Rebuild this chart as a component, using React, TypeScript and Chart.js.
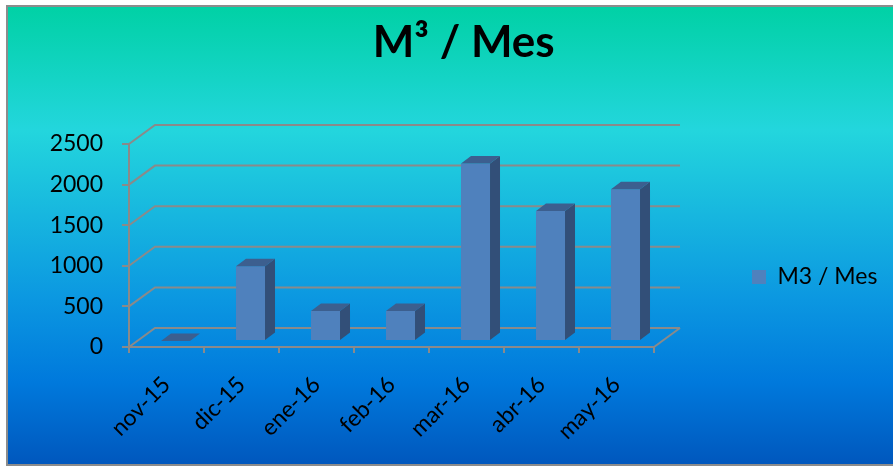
import React, { useEffect, useRef } from 'react';
import { Chart, registerables } from 'chart.js';

Chart.register(...registerables);

// ---- data ----
const categories = ['nov-15', 'dic-15', 'ene-16', 'feb-16', 'mar-16', 'abr-16', 'may-16'];
const seriesLabel = 'M3 / Mes';
const seriesValues = [0, 920, 370, 370, 2185, 1600, 1870];
const chartTitle = 'M³ / Mes';
const yMin = 0;
const yMax = 2500;
const yStep = 500;

// ---- styling ----
const W = 893;
const H = 466;
const FONT = 'Lato';
const GRID = '#8a8a8a';
const FRONT = '#4F81BD';
const TOP = '#3C5F8F';
const SIDE = '#324F78';
const WALL_DX = 26;
const WALL_DY = -19;
const BAR_OX = 9;
const BAR_OY = -6;
const BAR_DX = 10;
const BAR_DY = -7.5;
const PLOT_RIGHT = 654;
const LEGEND_PAD = 98;
const LEGEND_FONT = 23;

const backgroundPlugin = {
  id: 'bg',
  beforeDraw(chart: any) {
    const { ctx } = chart;
    ctx.save();
    ctx.fillStyle = '#ffffff';
    ctx.fillRect(0, 0, W, H);
    const g = ctx.createLinearGradient(0, 6, 0, 465);
    g.addColorStop(0, '#00D1A5');
    g.addColorStop(0.27, '#23D6DD');
    g.addColorStop(0.64, '#0B97E1');
    g.addColorStop(0.82, '#0079DC');
    g.addColorStop(1, '#0057BD');
    ctx.fillStyle = g;
    ctx.fillRect(7, 6, W - 7, 459);
    ctx.strokeStyle = '#8c8c8c';
    ctx.lineWidth = 2;
    ctx.beginPath();
    ctx.moveTo(W + 2, 6);
    ctx.lineTo(7, 6);
    ctx.lineTo(7, 465);
    ctx.lineTo(W + 2, 465);
    ctx.stroke();
    ctx.restore();
  },
};

const threeDPlugin = {
  id: 'threeD',
  beforeDatasetsDraw(chart: any) {
    const { ctx, chartArea: a, scales } = chart;
    const y = scales.y;
    ctx.save();
    ctx.strokeStyle = GRID;
    ctx.lineWidth = 2;
    y.ticks.forEach((t: any) => {
      const py = y.getPixelForValue(t.value);
      ctx.beginPath();
      ctx.moveTo(a.left, py);
      ctx.lineTo(a.left + WALL_DX, py + WALL_DY);
      ctx.lineTo(a.right + WALL_DX, py + WALL_DY);
      ctx.stroke();
    });
    const p0 = y.getPixelForValue(yMin);
    ctx.beginPath();
    ctx.moveTo(a.right, p0);
    ctx.lineTo(a.right + WALL_DX, p0 + WALL_DY);
    ctx.stroke();
    ctx.restore();
    ctx.save();
    ctx.translate(BAR_OX, BAR_OY);
  },
  afterDatasetsDraw(chart: any) {
    const { ctx } = chart;
    const meta = chart.getDatasetMeta(0);
    meta.data.forEach((el: any) => {
      const { x, y, base, width } = el.getProps(['x', 'y', 'base', 'width'], true);
      const x1 = x - width / 2;
      const x2 = x + width / 2;
      ctx.fillStyle = SIDE;
      ctx.beginPath();
      ctx.moveTo(x2, y);
      ctx.lineTo(x2 + BAR_DX, y + BAR_DY);
      ctx.lineTo(x2 + BAR_DX, base + BAR_DY);
      ctx.lineTo(x2, base);
      ctx.closePath();
      ctx.fill();
      ctx.fillStyle = TOP;
      ctx.beginPath();
      ctx.moveTo(x1, y);
      ctx.lineTo(x2, y);
      ctx.lineTo(x2 + BAR_DX, y + BAR_DY);
      ctx.lineTo(x1 + BAR_DX, y + BAR_DY);
      ctx.closePath();
      ctx.fill();
    });
    ctx.restore();
  },
};

export default function App() {
  const ref = useRef<HTMLCanvasElement>(null);

  useEffect(() => {
    const canvas = ref.current;
    if (!canvas) return;
    const m = document.createElement('canvas').getContext('2d') as CanvasRenderingContext2D;
    m.font = `${LEGEND_FONT}px ${FONT}`;
    const legendTextW = m.measureText(seriesLabel).width;
    const padRight = W - PLOT_RIGHT - (LEGEND_PAD + 14 + LEGEND_FONT / 2 + legendTextW);

    const chart = new Chart(canvas, {
      type: 'bar',
      data: {
        labels: categories,
        datasets: [
          {
            label: seriesLabel,
            data: seriesValues,
            backgroundColor: FRONT,
            borderWidth: 0,
            barPercentage: 0.387,
            categoryPercentage: 1,
            clip: false as any,
          },
        ],
      },
      options: {
        responsive: false,
        animation: false,
        events: [],
        layout: { padding: { left: 40, right: padRight, top: 0, bottom: 9 } },
        plugins: {
          tooltip: { enabled: false },
          title: {
            display: true,
            text: chartTitle,
            color: '#000',
            font: { family: FONT, size: 44, weight: 'bold', lineHeight: 1.2 },
            padding: { top: 16, bottom: 75.2 },
          },
          legend: {
            display: true,
            position: 'right',
            align: 'center',
            maxWidth: 400,
            title: { display: true, text: '', padding: { top: 85, bottom: 0 }, font: { size: 10 } },
            labels: {
              boxWidth: 14,
              boxHeight: 14,
              padding: LEGEND_PAD,
              color: '#000',
              font: { family: FONT, size: LEGEND_FONT },
            },
          },
        },
        scales: {
          x: {
            offset: true,
            grid: { display: true, offset: true, drawOnChartArea: false, drawTicks: true, tickLength: 6, color: GRID, lineWidth: 2 },
            border: { display: true, color: GRID, width: 2 },
            ticks: { color: '#000', font: { family: FONT, size: 23 }, minRotation: 45, maxRotation: 45, padding: 18, autoSkip: false },
            afterFit: (s: any) => { s.height = 110; },
          },
          y: {
            min: yMin,
            max: yMax,
            grid: { display: true, drawOnChartArea: false, drawTicks: true, tickLength: 7, color: GRID, lineWidth: 2 },
            border: { display: true, color: GRID, width: 2 },
            ticks: {
              stepSize: yStep,
              color: '#000',
              font: { family: FONT, size: 23 },
              padding: 19,
              callback: (v: any) => String(v),
            },
            afterFit: (s: any) => { s.width = 89; },
          },
        },
      },
      plugins: [backgroundPlugin, threeDPlugin],
    });

    const diff = chart.chartArea.right - PLOT_RIGHT;
    if (Math.abs(diff) > 0.5) {
      const p: any = chart.options.layout!.padding;
      chart.options.layout!.padding = { left: 40, right: (p.right ?? padRight) + diff, top: 0, bottom: 9 };
      chart.update();
    }
    return () => chart.destroy();
  }, []);

  return (
    <div style={{ position: 'absolute', left: 0, top: 0, width: W, height: H }}>
      <canvas ref={ref} width={W} height={H} style={{ display: 'block', width: W, height: H }} />
    </div>
  );
}
